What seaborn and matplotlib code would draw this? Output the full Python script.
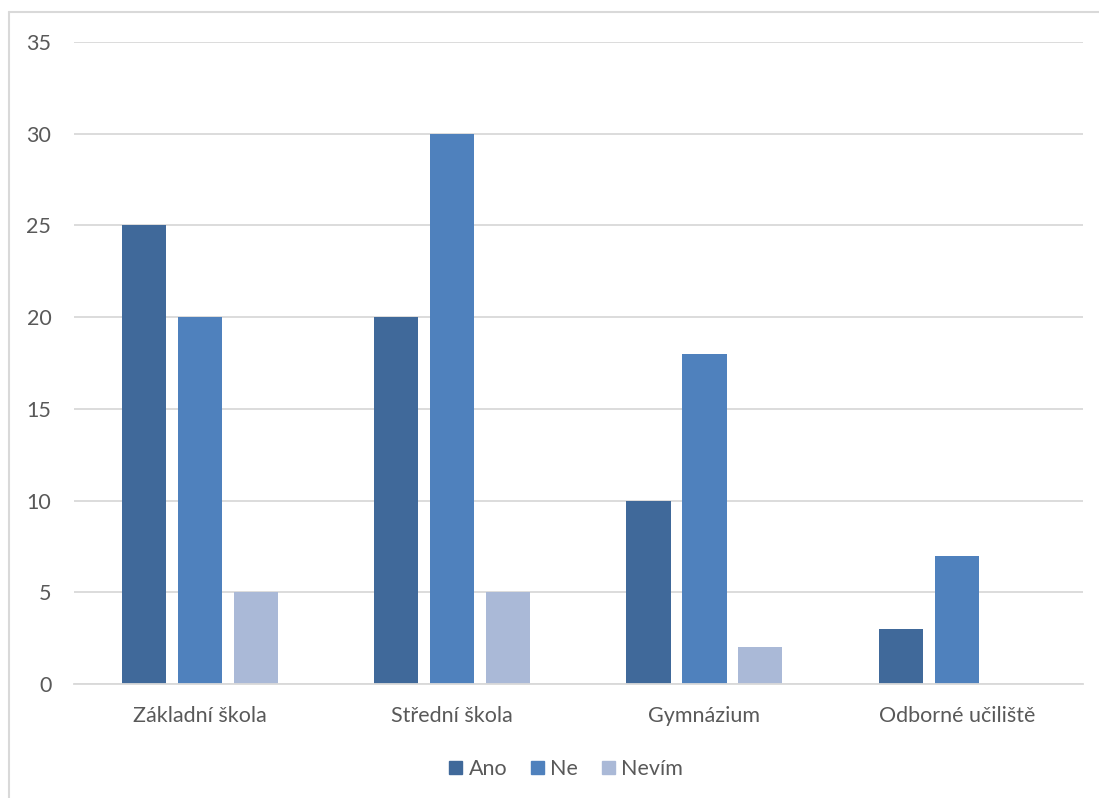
import matplotlib
matplotlib.use("Agg")
import matplotlib.pyplot as plt
import seaborn as sns
import pandas as pd
from matplotlib.lines import Line2D

categories = ["Základní škola", "Střední škola", "Gymnázium", "Odborné učiliště"]
series_names = ["Ano", "Ne", "Nevím"]
ano = [25, 20, 10, 3]
ne = [20, 30, 18, 7]
nevim = [5, 5, 2, 0]
y_ticks = [0, 5, 10, 15, 20, 25, 30, 35]

colors = ["#40699A", "#4F81BD", "#AAB9D7"]

rows = []
for name, vals in zip(series_names, [ano, ne, nevim]):
    for c, v in zip(categories, vals):
        rows.append({"Kategorie": c, "Série": name, "Hodnota": v})
df = pd.DataFrame(rows)

sns.set_theme(style="white")
plt.rcParams["font.family"] = ["Lato", "DejaVu Sans"]

W, H = 1099, 798
fig = plt.figure(figsize=(W / 100, H / 100), dpi=100)
ax = fig.add_axes([73.5 / W, 1 - 684 / H, (1083 - 73.5) / W, (684 - 42) / H])

sns.barplot(data=df, x="Kategorie", y="Hodnota", hue="Série", order=categories,
            hue_order=series_names, palette=colors, width=0.665, gap=0.21,
            saturation=1, ax=ax, legend=False, edgecolor="none")

ax.set_xlim(-0.5, 3.5)
ax.set_ylim(0, 35)
ax.set_yticks(y_ticks)
ax.grid(axis="y", color="#D9D9D9", linewidth=1.3)
ax.set_axisbelow(True)
for s in ["left", "right", "top"]:
    ax.spines[s].set_visible(False)
ax.spines["bottom"].set_color("#D9D9D9")
ax.spines["bottom"].set_linewidth(1.3)
ax.set_xlabel("")
ax.set_ylabel("")
ax.tick_params(axis="both", length=0, colors="#595959", labelsize=15.5)
ax.tick_params(axis="y", pad=16)
ax.tick_params(axis="x", pad=16)

handles = [plt.Rectangle((0, 0), 1, 1, color=c) for c in colors]
leg = fig.legend(handles, series_names, loc="center", bbox_to_anchor=(566 / W, 1 - 769 / H),
                 ncol=3, frameon=False, fontsize=15.5, handlelength=0.6, handleheight=0.6,
                 handletextpad=0.3, columnspacing=1.1, labelcolor="#595959")

fig.add_artist(Line2D([9 / W, 9 / W], [0, 1 - 12 / H], transform=fig.transFigure,
                      color="#D9D9D9", linewidth=1.5))
fig.add_artist(Line2D([9 / W, 1], [1 - 12 / H, 1 - 12 / H], transform=fig.transFigure,
                      color="#D9D9D9", linewidth=1.5))

fig.savefig("out.png", dpi=100, facecolor="white")
